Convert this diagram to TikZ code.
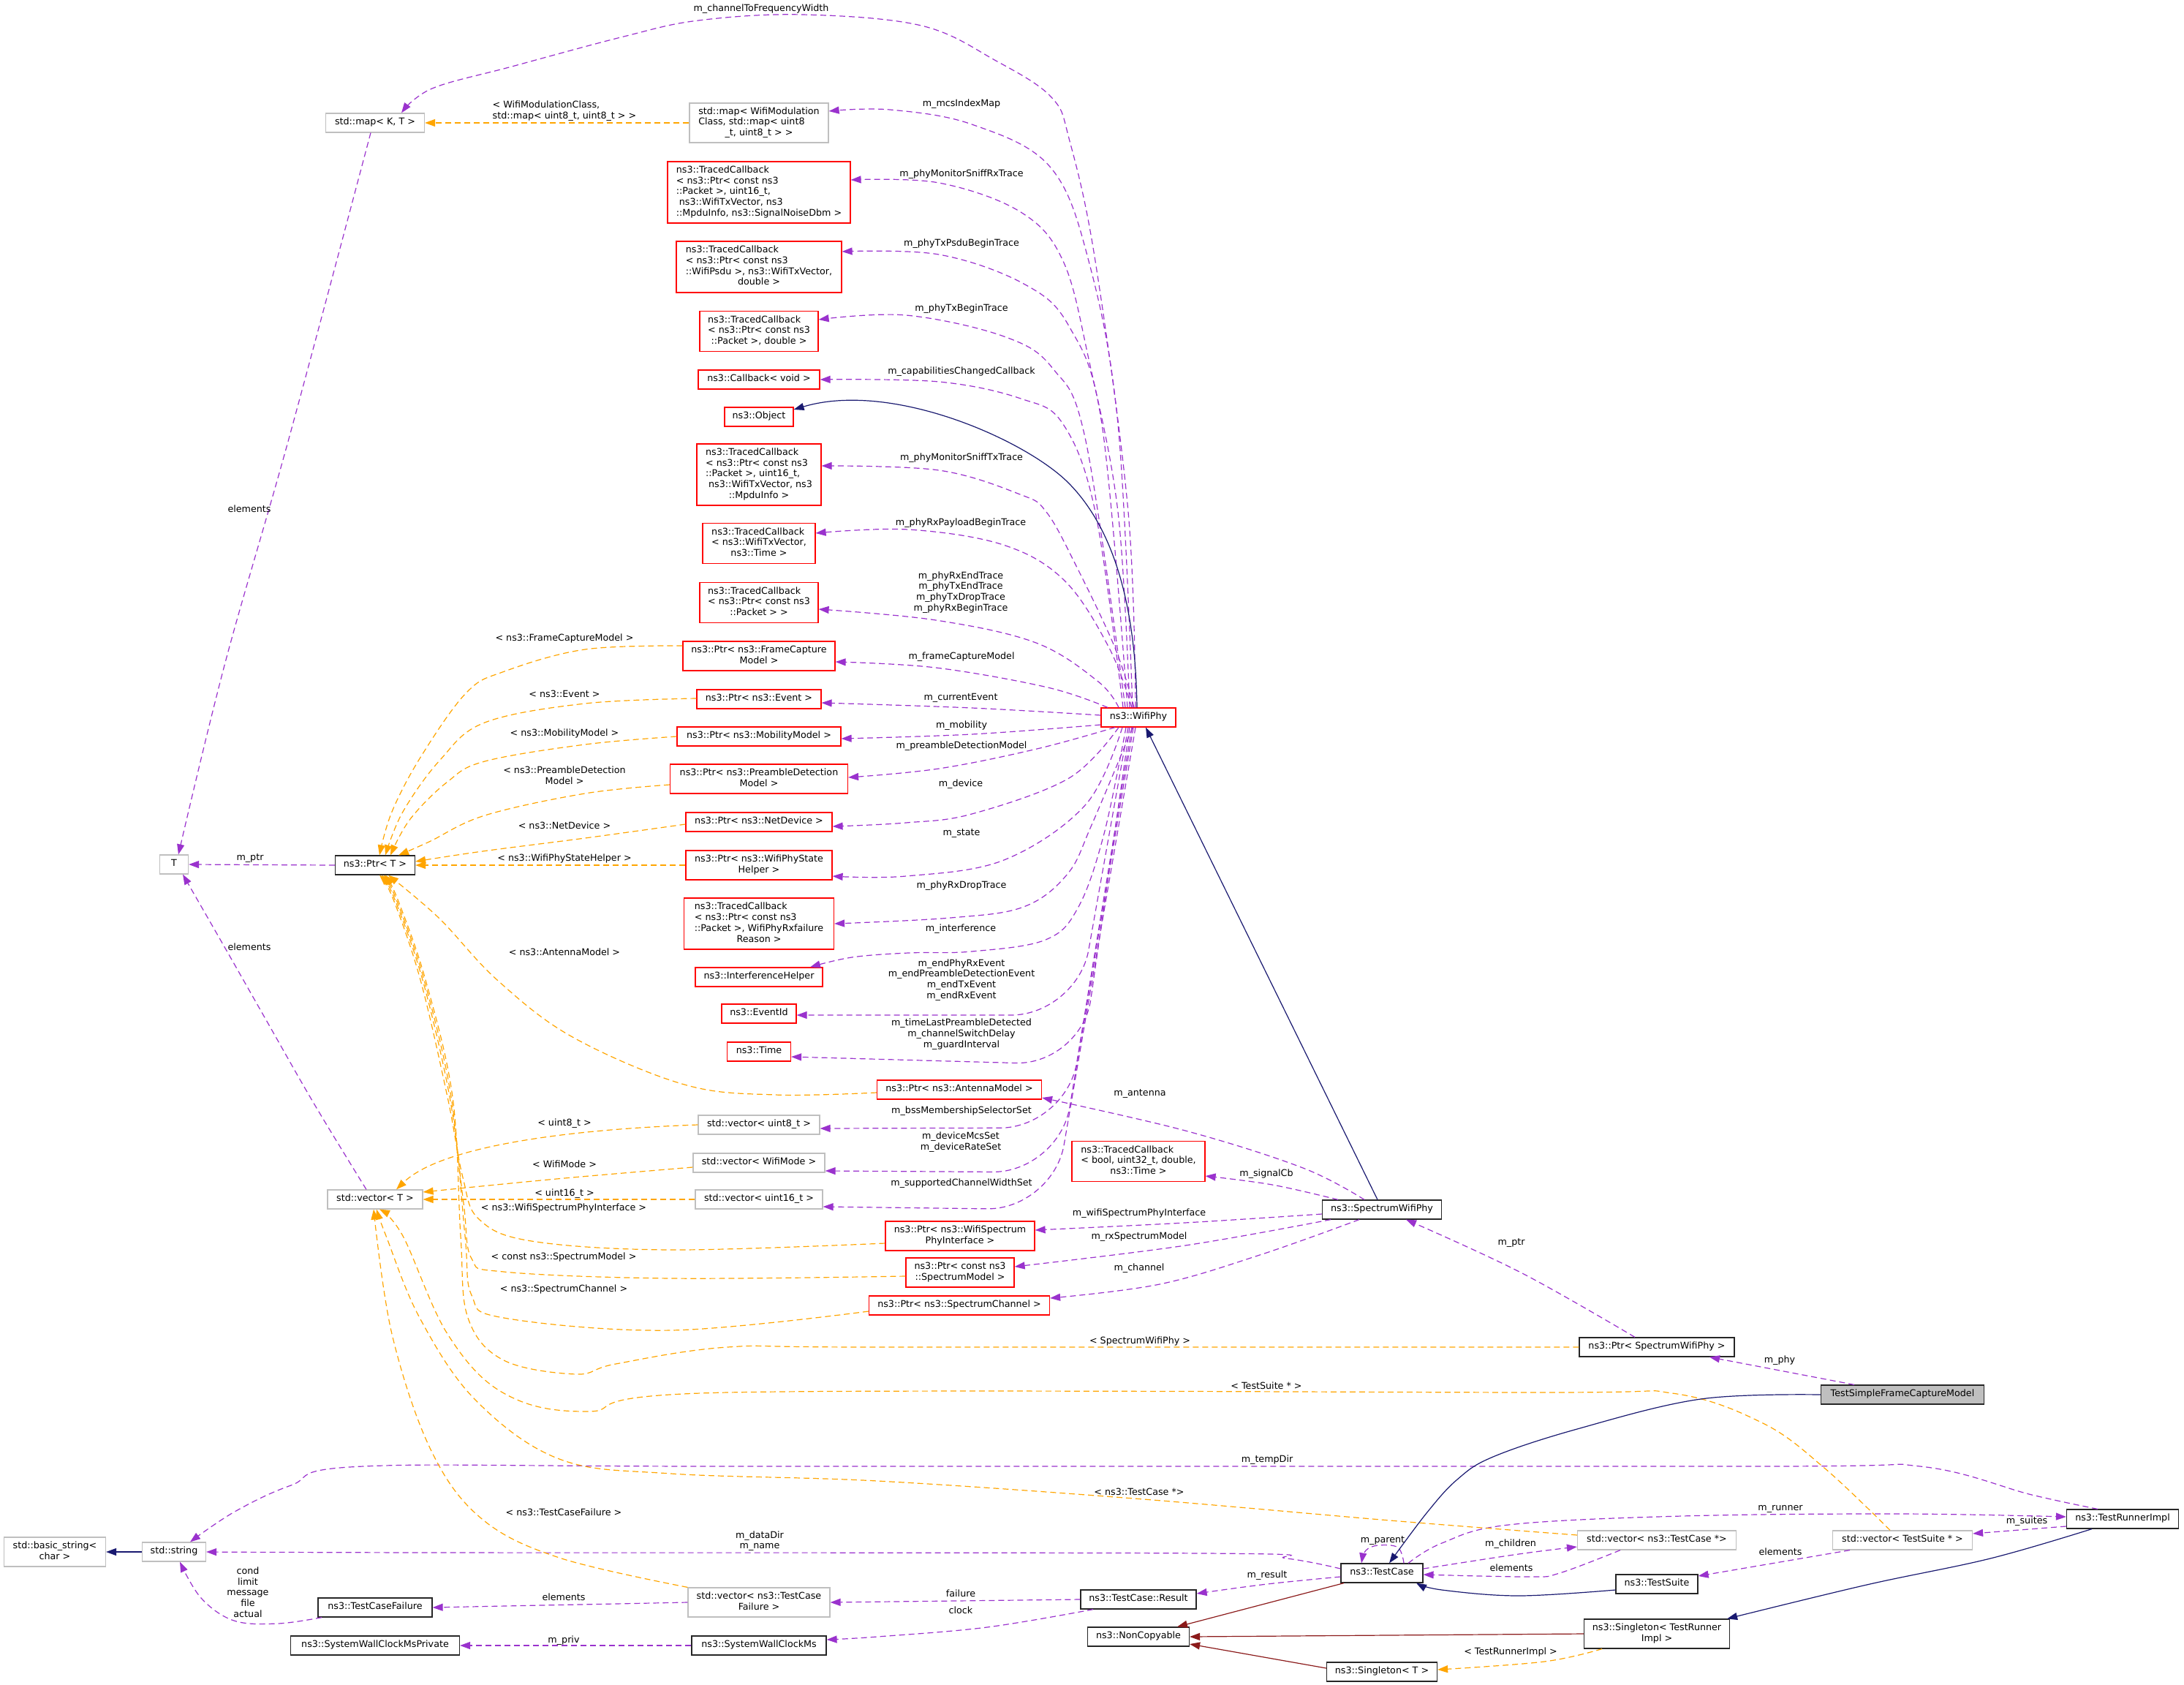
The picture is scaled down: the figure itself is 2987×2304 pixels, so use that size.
\documentclass[tikz,border=0pt]{standalone}
\usepackage{fontspec}
\setmainfont{DejaVu Sans}
\usetikzlibrary{arrows.meta}
\definecolor{purp}{HTML}{9A32CD}
\definecolor{orng}{HTML}{FFA500}
\definecolor{navyb}{HTML}{191970}
\definecolor{fireb}{HTML}{8B1A1A}
\definecolor{gbord}{HTML}{BFBFBF}
\definecolor{gfill}{HTML}{BFBFBF}
\newcommand\nf{\fontsize{12.7}{14.7}\selectfont}
\newcommand\mlb[2]{\begin{tabular}{@{}l@{}}#1\multicolumn{1}{@{}c@{}}{#2}\end{tabular}}
\begin{document}
\begin{tikzpicture}[x=1pt,y=-1pt,
 nb/.style={draw, fill=white, line width=1.2pt, inner xsep=2pt, inner ysep=1pt, font=\nf, rectangle},
 rb/.style={nb, draw=red},
 gb/.style={nb, draw=gbord},
 bb/.style={nb, draw=black!85},
 gf/.style={nb, draw=black!85, fill=gfill},
 sz/.style args={#1/#2}{minimum width=#1pt, minimum height=#2pt},
 ar/.style={-{Triangle[length=14pt,width=10pt]}, line width=1.2pt},
 use/.style={ar, draw=purp, dash pattern=on 8pt off 5pt},
 tmpl/.style={ar, draw=orng, dash pattern=on 8pt off 5pt},
 inh/.style={ar, draw=navyb},
 priv/.style={ar, draw=fireb},
 lbl/.style={font=\nf, inner sep=0pt}
]
\useasboundingbox (0,0) rectangle (2987,2304);

% ---------------- nodes ----------------
\node[gb, sz=135/26] (mapKT) at (513,168) {\mlb{}{std::map< K, T >}};
\node[gb, sz=190/54] (mapWMC) at (1038,168) {\mlb{std::map< WifiModulation\\Class, std::map< uint8\\}{\_t, uint8\_t > >}};
\node[rb, sz=250/84] (tcSniffRx) at (1038,263) {\mlb{ns3::TracedCallback\\< ns3::Ptr< const ns3\\::Packet >, uint16\_t,\\\ ns3::WifiTxVector, ns3\\}{::MpduInfo, ns3::SignalNoiseDbm >}};
\node[rb, sz=226/70] (tcPsdu) at (1038,365) {\mlb{ns3::TracedCallback\\< ns3::Ptr< const ns3\\::WifiPsdu >, ns3::WifiTxVector,\\}{double >}};
\node[rb, sz=162/55] (tcTxBegin) at (1038,453) {\mlb{ns3::TracedCallback\\< ns3::Ptr< const ns3\\}{::Packet >, double >}};
\node[rb, sz=166/26] (cbVoid) at (1038,519) {\mlb{}{ns3::Callback< void >}};
\node[rb, sz=94/26] (object) at (1038,570) {\mlb{}{ns3::Object}};
\node[rb, sz=170/84] (tcSniffTx) at (1038,649) {\mlb{ns3::TracedCallback\\< ns3::Ptr< const ns3\\::Packet >, uint16\_t,\\\ ns3::WifiTxVector, ns3\\}{::MpduInfo >}};
\node[rb, sz=154/55] (tcPayload) at (1038,743) {\mlb{ns3::TracedCallback\\< ns3::WifiTxVector,\\}{ns3::Time >}};
\node[rb, sz=162/55] (tcPacket) at (1038,824) {\mlb{ns3::TracedCallback\\< ns3::Ptr< const ns3\\}{::Packet > >}};
\node[rb, sz=208/40] (ptrFCM) at (1038,897) {\mlb{ns3::Ptr< ns3::FrameCapture\\}{Model >}};
\node[rb, sz=170/26] (ptrEvent) at (1038,956) {\mlb{}{ns3::Ptr< ns3::Event >}};
\node[rb, sz=224/26] (ptrMob) at (1038,1007) {\mlb{}{ns3::Ptr< ns3::MobilityModel >}};
\node[rb, sz=243/40] (ptrPDM) at (1038,1065) {\mlb{ns3::Ptr< ns3::PreambleDetection\\}{Model >}};
\node[rb, sz=200/26] (ptrND) at (1038,1124) {\mlb{}{ns3::Ptr< ns3::NetDevice >}};
\node[rb, sz=200/40] (ptrWPSH) at (1038,1183) {\mlb{ns3::Ptr< ns3::WifiPhyState\\}{Helper >}};
\node[rb, sz=205/70] (tcRxFail) at (1038,1263) {\mlb{ns3::TracedCallback\\< ns3::Ptr< const ns3\\::Packet >, WifiPhyRxfailure\\}{Reason >}};
\node[rb, sz=174/26] (interf) at (1038,1336) {\mlb{}{ns3::InterferenceHelper}};
\node[rb, sz=102/26] (eventId) at (1038,1386) {\mlb{}{ns3::EventId}};
\node[rb, sz=87/26] (time) at (1038,1438) {\mlb{}{ns3::Time}};
\node[gb, sz=166/26] (vecU8) at (1038,1538) {\mlb{}{std::vector< uint8\_t >}};
\node[gb, sz=180/26] (vecWM) at (1038,1590) {\mlb{}{std::vector< WifiMode >}};
\node[gb, sz=174/26] (vecU16) at (1038,1640) {\mlb{}{std::vector< uint16\_t >}};
\node[gb, sz=194/40] (vecTCF) at (1038,2191) {\mlb{std::vector< ns3::TestCase\\}{Failure >}};
\node[bb, sz=184/26] (swcm) at (1038,2250) {\mlb{}{ns3::SystemWallClockMs}};

\node[bb, sz=109/26] (ptrT) at (513,1183) {\mlb{}{ns3::Ptr< T >}};
\node[gb, sz=130/26] (vecT) at (513,1640) {\mlb{}{std::vector< T >}};
\node[bb, sz=156/26] (tcf) at (513,2198) {\mlb{}{ns3::TestCaseFailure}};
\node[bb, sz=231/26] (swcmp) at (513,2250) {\mlb{}{ns3::SystemWallClockMsPrivate}};
\node[gb, sz=39/26] (T) at (238,1182) {\mlb{}{T}};
\node[gb, sz=87/26] (str) at (238,2122) {\mlb{}{std::string}};
\node[gb, sz=139/40] (bstr) at (75,2122) {\mlb{std::basic\_string<\\}{char >}};

\node[rb, sz=225/26] (ptrAnt) at (1312,1490) {\mlb{}{ns3::Ptr< ns3::AntennaModel >}};
\node[rb, sz=204/40] (ptrWSPI) at (1313,1690) {\mlb{ns3::Ptr< ns3::WifiSpectrum\\}{PhyInterface >}};
\node[rb, sz=148/40] (ptrSM) at (1313,1740) {\mlb{ns3::Ptr< const ns3\\}{::SpectrumModel >}};
\node[rb, sz=247/26] (ptrSC) at (1312,1785) {\mlb{}{ns3::Ptr< ns3::SpectrumChannel >}};

\node[rb, sz=102/26] (wifiPhy) at (1557,981) {\mlb{}{ns3::WifiPhy}};
\node[rb, sz=182/55] (tcBool) at (1557,1588) {\mlb{ns3::TracedCallback\\< bool, uint32\_t, double,\\}{ns3::Time >}};
\node[bb, sz=158/26] (result) at (1557,2187) {\mlb{}{ns3::TestCase::Result}};
\node[bb, sz=139/26] (noncopy) at (1557,2238) {\mlb{}{ns3::NonCopyable}};
\node[bb, sz=163/26] (swp) at (1890,1654) {\mlb{}{ns3::SpectrumWifiPhy}};
\node[bb, sz=112/26] (testCase) at (1890,2151) {\mlb{}{ns3::TestCase}};
\node[bb, sz=151/26] (singT) at (1890,2286) {\mlb{}{ns3::Singleton< T >}};
\node[bb, sz=212/26] (ptrSWP) at (2266,1842) {\mlb{}{ns3::Ptr< SpectrumWifiPhy >}};
\node[gb, sz=217/26] (vecTC) at (2266,2106) {\mlb{}{std::vector< ns3::TestCase *>}};
\node[bb, sz=112/26] (testSuite) at (2266,2166) {\mlb{}{ns3::TestSuite}};
\node[bb, sz=199/40] (singTRI) at (2266,2234) {\mlb{ns3::Singleton< TestRunner\\}{Impl >}};
\node[gf, sz=223/26] (tsfcm) at (2602,1907) {\mlb{}{TestSimpleFrameCaptureModel}};
\node[gb, sz=191/26] (vecTS) at (2602,2106) {\mlb{}{std::vector< TestSuite * >}};
\node[bb, sz=153/26] (tri) at (2903,2077) {\mlb{}{ns3::TestRunnerImpl}};

% ---------------- WifiPhy usage edges (upper) ----------------
\draw[use] plot[smooth,tension=.6] coordinates {([xshift=-4pt]wifiPhy.north) (1543,700) (1498,357) (1463,193) (1438,133) (1362,83) (1260,35) (1097,20) (955,28) (853,50) (700,91) (591,121) ([xshift=36pt]mapKT.north)};
\draw[use] plot[smooth,tension=.6] coordinates {([xshift=-8pt]wifiPhy.north) (1529,580) (1489,357) (1436,228) (1329,170) (1217,150) ([yshift=16pt]mapWMC.east)};
\draw[use] plot[smooth,tension=.6] coordinates {([xshift=-12pt]wifiPhy.north) (1529,700) (1489,491) (1454,357) (1396,290) (1284,250) ([yshift=17pt]tcSniffRx.east)};
\draw[use] plot[smooth,tension=.6] coordinates {([xshift=-15pt]wifiPhy.north) (1507,580) (1462,446) (1400,388) (1284,348) ([yshift=21pt]tcPsdu.east)};
\draw[use] plot[smooth,tension=.6] coordinates {([xshift=-18pt]wifiPhy.north) (1485,603) (1440,504) (1373,460) (1239,431) ([yshift=16pt]tcTxBegin.east)};
\draw[use] plot[smooth,tension=.6] coordinates {([xshift=-21pt]wifiPhy.north) (1498,700) (1454,580) (1396,545) (1284,522) (cbVoid.east)};
\draw[inh] ([xshift=-2pt]wifiPhy.north) .. controls (1553,820) and (1520,720) .. (1462,661) .. controls (1404,602) and (1220,520) .. ([yshift=10pt]object.east);
\draw[use] plot[smooth,tension=.6] coordinates {([xshift=-6pt]wifiPhy.north) (1525,886) (1471,772) (1431,700) (1395,676) (1284,643) ([yshift=12pt]tcSniffTx.east)};
\draw[use] plot[smooth,tension=.6] coordinates {([xshift=-9pt]wifiPhy.north) (1517,886) (1456,794) (1372,745) (1242,724) ([yshift=14pt]tcPayload.east)};
\draw[use] plot[smooth,tension=.6] coordinates {([xshift=-27pt]wifiPhy.north) (1502,932) (1417,879) (1280,848) ([yshift=-9pt]tcPacket.east)};
\draw[use] plot[smooth,tension=.6] coordinates {([xshift=-42pt]wifiPhy.north) (1433,940) (1280,913) ([yshift=-8pt]ptrFCM.east)};
\draw[use] plot[smooth,tension=.6] coordinates {([yshift=3pt]wifiPhy.west) (1329,968) ([yshift=-5pt]ptrEvent.east)};
\draw[use] plot[smooth,tension=.6] coordinates {([yshift=-10pt]wifiPhy.west) (1329,1004) ([yshift=-3pt]ptrMob.east)};
% ---------------- WifiPhy usage edges (lower) ----------------
\draw[use] plot[smooth,tension=.6] coordinates {([xshift=-32pt]wifiPhy.south) (1418,1024) (1284,1051) ([yshift=2pt]ptrPDM.east)};
\draw[use] plot[smooth,tension=.6] coordinates {([xshift=-27pt]wifiPhy.south) (1462,1064) (1329,1113) (1239,1125) ([yshift=-6pt]ptrND.east)};
\draw[use] plot[smooth,tension=.6] coordinates {([xshift=-22pt]wifiPhy.south) (1485,1100) (1373,1176) (1239,1198) ([yshift=-15pt]ptrWPSH.east)};
\draw[use] plot[smooth,tension=.6] coordinates {([xshift=-8pt]wifiPhy.south) (1493,1128) (1460,1195) (1400,1240) (1300,1255) (tcRxFail.east)};
\draw[use] plot[smooth,tension=.6] coordinates {([xshift=-17pt]wifiPhy.south) (1510,1140) (1475,1240) (1430,1285) (1329,1301) (1242,1303) (1165,1309) ([xshift=70pt]interf.north)};
\draw[use, rounded corners=90pt] ([xshift=-14pt]wifiPhy.south) -- (1473,1388) -- ([yshift=-2pt]eventId.east);
\draw[use, rounded corners=90pt] ([xshift=-12pt]wifiPhy.south) -- (1479,1456) -- ([yshift=-7pt]time.east);
\draw[use, rounded corners=90pt] ([xshift=-9pt]wifiPhy.south) -- (1458,1542) -- ([yshift=-5pt]vecU8.east);
\draw[use, rounded corners=90pt] ([xshift=-7pt]wifiPhy.south) -- (1448,1603) -- ([yshift=-11pt]vecWM.east);
\draw[use, rounded corners=90pt] ([xshift=-4pt]wifiPhy.south) -- (1440,1654) -- ([yshift=-10pt]vecU16.east);

% ---------------- SpectrumWifiPhy ----------------
\draw[inh] ([xshift=-6pt]swp.north) -- ([xshift=10pt]wifiPhy.south);
\draw[use] plot[smooth,tension=.6] coordinates {([xshift=-24pt]swp.north) (1782,1597) (1621,1546) ([yshift=-11pt]ptrAnt.east)};
\draw[use] plot[smooth,tension=.6] coordinates {([xshift=-60pt]swp.north) (1740,1620) ([yshift=-20pt]tcBool.east)};
\draw[use] plot[smooth,tension=.6] coordinates {([yshift=-6pt]swp.west) (1620,1672) ([yshift=8pt]ptrWSPI.east)};
\draw[use] plot[smooth,tension=.6] coordinates {([xshift=-70pt]swp.south) (1621,1703) ([yshift=8pt]ptrSM.east)};
\draw[use] plot[smooth,tension=.6] coordinates {([xshift=-31pt]swp.south) (1726,1715) (1586,1756) ([yshift=10pt]ptrSC.east)};
\draw[use] plot[smooth,tension=.6] coordinates {([xshift=-30pt]ptrSWP.north) (2080,1740) ([xshift=33pt]swp.south)};
\draw[use] ([xshift=-66pt]tsfcm.north) -- ([xshift=72pt]ptrSWP.south);

% ---------------- test framework ----------------
\draw[use] plot[smooth,tension=.6] coordinates {([xshift=-34pt]tri.north) (2779,2044) (2626,2005) (2400,2005) (1000,2005) (497,2005) (398,2031) (321,2067) ([xshift=22pt]str.north)};
\draw[use] plot[smooth,tension=.6] coordinates {([yshift=6pt]testCase.west) (1760,2131) (1650,2124) (600,2123) (str.east)};
\draw[use] plot[smooth,tension=.6] coordinates {([yshift=-5pt]testCase.west) (1733,2166) ([yshift=8pt]result.east)};
\draw[use] (result.west) -- (vecTCF.east);
\draw[use] plot[smooth,tension=.6] coordinates {([xshift=-62pt]result.south) (1350,2225) (1200,2238) ([yshift=8pt]swcm.east)};
\draw[use] (vecTCF.west) -- (tcf.east);
\draw[use] (swcm.west) -- (swcmp.east);
\draw[use] plot[smooth,tension=.6] coordinates {([xshift=-73pt]tcf.south) (380,2220) (320,2216) (275,2185) ([xshift=8pt]str.south)};
\draw[use] plot[smooth,tension=.6] coordinates {([xshift=30pt]testCase.north) (1912,2116) (1885,2113) (1868,2120) ([xshift=-28pt]testCase.north)};
\draw[use] plot[smooth,tension=.6] coordinates {([yshift=6pt]testCase.east) (2077,2125) ([yshift=-9pt]vecTC.west)};
\draw[use] plot[smooth,tension=.6] coordinates {([xshift=-50pt]vecTC.south) (2133,2151) (2092,2156) ([yshift=-2pt]testCase.east)};
\draw[use] plot[smooth,tension=.6] coordinates {([xshift=36pt]testCase.north) (1972,2110) (2063,2085) (2300,2073) (2600,2070) ([yshift=3pt]tri.west)};
\draw[use] ([yshift=-10pt]tri.west) -- ([yshift=9pt]vecTS.east);
\draw[use] ([xshift=-72pt]vecTS.south) -- ([yshift=11pt]testSuite.east);

% ---------------- T ----------------
\draw[use] plot[smooth,tension=.6] coordinates {([xshift=-6pt]mapKT.south) (395,600) (308,906) ([xshift=6pt]T.north)};
\draw[use] plot[smooth,tension=.6] coordinates {([xshift=-12pt]vecT.north) (430,1510) (367,1400) (310,1300) ([xshift=12pt]T.south)};
\draw[use] (ptrT.west) -- (T.east);

% ---------------- template instances ----------------
\draw[tmpl] (mapWMC.west) -- (mapKT.east);
\draw[tmpl] plot[smooth,tension=.6] coordinates {([yshift=14pt]ptrFCM.west) (800,888) (690,918) (638,947) (576,1034) (536,1110) ([xshift=6pt]ptrT.north)};
\draw[tmpl] plot[smooth,tension=.6] coordinates {([yshift=1pt]ptrEvent.west) (800,962) (663,988) (602,1039) (551,1110) ([xshift=14pt]ptrT.north)};
\draw[tmpl] plot[smooth,tension=.6] coordinates {(ptrMob.west) (800,1018) (663,1041) (612,1069) (561,1120) ([xshift=21pt]ptrT.north)};
\draw[tmpl] plot[smooth,tension=.6] coordinates {([yshift=-8pt]ptrPDM.west) (800,1085) (663,1115) (587,1151) ([xshift=32pt]ptrT.north)};
\draw[tmpl] plot[smooth,tension=.6] coordinates {([yshift=-3pt]ptrND.west) (800,1146) (660,1164) ([yshift=5pt]ptrT.east)};
\draw[tmpl] (ptrWPSH.west) -- (ptrT.east);
\draw[tmpl] plot[smooth,tension=.6] coordinates {([yshift=-4pt]ptrAnt.west) (1060,1497) (936,1483) (783,1418) (680,1340) (600,1255) ([xshift=18pt]ptrT.south)};
\draw[tmpl] plot[smooth,tension=.6] coordinates {([yshift=-10pt]ptrWSPI.west) (918,1709) (727,1697) (655,1667) (633,1610) (612,1500) (575,1340) (538,1230) ([xshift=6pt]ptrT.south)};
\draw[tmpl] plot[smooth,tension=.6] coordinates {([yshift=-5pt]ptrSM.west) (918,1748) (689,1739) (645,1721) (634,1645) (615,1500) (578,1340) (540,1230) ([xshift=9pt]ptrT.south)};
\draw[tmpl] plot[smooth,tension=.6] coordinates {([yshift=-8pt]ptrSC.west) (918,1819) (689,1802) (645,1771) (636,1690) (617,1500) (580,1340) (542,1230) ([xshift=12pt]ptrT.south)};
\draw[tmpl] plot[smooth,tension=.6] coordinates {(ptrSWP.west) (1200,1842) (995,1842) (842,1865) (788,1879) (689,1860) (640,1802) (630,1690) (619,1500) (582,1340) (544,1230) ([xshift=14pt]ptrT.south)};
\draw[tmpl] (vecU8.west) .. controls (760,1545) and (600,1570) .. ([xshift=29pt]vecT.north);
\draw[tmpl] plot[smooth,tension=.6] coordinates {([yshift=-6pt]vecWM.west) (783,1610) (668,1621) ([yshift=10pt]vecT.east)};
\draw[tmpl] (vecU16.west) -- (vecT.east);
\draw[tmpl] plot[smooth,tension=.6] coordinates {([xshift=-17pt]vecTS.north) (2496,2008) (2411,1946) (2287,1905) (2100,1904) (995,1904) (803,1930) (689,1905) (612,1824) (551,1690) ([xshift=6pt]vecT.south)};
\draw[tmpl] plot[smooth,tension=.6] coordinates {([yshift=7pt]vecTC.west) (1901,2079) (1551,2049) (1200,2025) (918,2015) (765,1995) (650,1914) (574,1802) (528,1690) ([xshift=2pt]vecT.south)};
\draw[tmpl] plot[smooth,tension=.6] coordinates {(vecTCF.north west) (765,2130) (658,2076) (589,1982) (536,1824) ([xshift=-2pt]vecT.south)};
\draw[tmpl] plot[smooth,tension=.6] coordinates {([xshift=-75pt]singTRI.south) (2112,2272) ([yshift=3pt]singT.east)};

% ---------------- inheritance ----------------
\draw[inh] plot[smooth,tension=.6] coordinates {(tsfcm.west) (2326,1913) (2157,1954) (2042,1992) (1993,2023) (1951,2069) ([xshift=10pt]testCase.north)};
\draw[inh] plot[smooth,tension=.6] coordinates {([yshift=-8pt]testSuite.west) (2077,2182) (1972,2174) ([xshift=47pt]testCase.south)};
\draw[inh] plot[smooth,tension=.6] coordinates {([xshift=-42pt]tri.south) (2722,2131) (2553,2167) ([xshift=-4pt]singTRI.north east)};
\draw[inh] (str.west) -- (bstr.east);
\draw[priv] ([xshift=-52pt]testCase.south) -- ([xshift=53pt]noncopy.north);
\draw[priv] (singTRI.west) -- (noncopy.east);
\draw[priv] ([yshift=5pt]singT.west) -- ([yshift=-10pt]noncopy.east);

% ---------------- labels ----------------
\node[lbl] (l1) at (1041,12) {m\_channelToFrequencyWidth};
\node[lbl] (l2) at (1315,142) {m\_mcsIndexMap};
\node[lbl] (l3) at (1315,238) {m\_phyMonitorSniffRxTrace};
\node[lbl] (l4) at (1315,333) {m\_phyTxPsduBeginTrace};
\node[lbl] (l5) at (1315,422) {m\_phyTxBeginTrace};
\node[lbl] (l6) at (1315,508) {m\_capabilitiesChangedCallback};
\node[lbl] (l7) at (1315,626) {m\_phyMonitorSniffTxTrace};
\node[lbl] (l8) at (1314,715) {m\_phyRxPayloadBeginTrace};
\node[lbl, align=center] (l9) at (1314,810) {m\_phyRxEndTrace\\m\_phyTxEndTrace\\m\_phyTxDropTrace\\m\_phyRxBeginTrace};
\node[lbl] (l10) at (1315,898) {m\_frameCaptureModel};
\node[lbl] (l11) at (1314,954) {m\_currentEvent};
\node[lbl] (l12) at (1315,992) {m\_mobility};
\node[lbl] (l13) at (1315,1020) {m\_preambleDetectionModel};
\node[lbl] (l14) at (1314,1072) {m\_device};
\node[lbl] (l15) at (1315,1140) {m\_state};
\node[lbl] (l16) at (1315,1211) {m\_phyRxDropTrace};
\node[lbl] (l17) at (1314,1270) {m\_interference};
\node[lbl, align=center] (l18) at (1315,1340) {m\_endPhyRxEvent\\m\_endPreambleDetectionEvent\\m\_endTxEvent\\m\_endRxEvent};
\node[lbl, align=center] (l19) at (1315,1414) {m\_timeLastPreambleDetected\\m\_channelSwitchDelay\\m\_guardInterval};
\node[lbl] (l20) at (1559,1496) {m\_antenna};
\node[lbl] (l21) at (1315,1519) {m\_bssMembershipSelectorSet};
\node[lbl, align=center] (l22) at (1314,1562) {m\_deviceMcsSet\\m\_deviceRateSet};
\node[lbl] (l23) at (1315,1618) {m\_supportedChannelWidthSet};
\node[lbl] (l24) at (1732,1605) {m\_signalCb};
\node[lbl] (l25) at (1558,1659) {m\_wifiSpectrumPhyInterface};
\node[lbl] (l26) at (1558,1691) {m\_rxSpectrumModel};
\node[lbl] (l27) at (1558,1734) {m\_channel};
\node[lbl] (l28) at (2067,1700) {m\_ptr};
\node[lbl] (l29) at (2434,1860) {m\_phy};
\node[lbl] (l30) at (1559,1834) {< SpectrumWifiPhy >};
\node[lbl] (l31) at (1732,1895) {< TestSuite * >};
\node[lbl] (l32) at (1733,1996) {m\_tempDir};
\node[lbl] (l33) at (1558,2040) {< ns3::TestCase *>};
\node[lbl] (l34) at (2435,2063) {m\_runner};
\node[lbl] (l35) at (2772,2080) {m\_suites};
\node[lbl] (l36) at (1891,2107) {m\_parent};
\node[lbl] (l37) at (2066,2111) {m\_children};
\node[lbl] (l38) at (2067,2144) {elements};
\node[lbl] (l39) at (2435,2122) {elements};
\node[lbl] (l40) at (1733,2154) {m\_result};
\node[lbl] (l41) at (1314,2179) {failure};
\node[lbl] (l42) at (1314,2202) {clock};
\node[lbl] (l43) at (2066,2259) {< TestRunnerImpl >};
\node[lbl, align=center] (l44) at (1039,2107) {m\_dataDir\\m\_name};
\node[lbl] (l45) at (771,2068) {< ns3::TestCaseFailure >};
\node[lbl] (l46) at (771,2184) {elements};
\node[lbl] (l47) at (771,2243) {m\_priv};
\node[lbl, align=center] (l48) at (339,2177) {cond\\limit\\message\\file\\actual};
\node[lbl, align=left] (l49) at (772,152) {< WifiModulationClass,\\std::map< uint8\_t, uint8\_t > >};
\node[lbl] (l50) at (772,873) {< ns3::FrameCaptureModel >};
\node[lbl] (l51) at (772,949) {< ns3::Event >};
\node[lbl] (l52) at (772,1003) {< ns3::MobilityModel >};
\node[lbl, align=center] (l53) at (772,1060) {< ns3::PreambleDetection\\Model >};
\node[lbl] (l54) at (772,1129) {< ns3::NetDevice >};
\node[lbl] (l55) at (772,1174) {< ns3::WifiPhyStateHelper >};
\node[lbl] (l56) at (772,1302) {< ns3::AntennaModel >};
\node[lbl] (l57) at (772,1536) {< uint8\_t >};
\node[lbl] (l58) at (772,1592) {< WifiMode >};
\node[lbl] (l59) at (772,1632) {< uint16\_t >};
\node[lbl] (l60) at (771,1652) {< ns3::WifiSpectrumPhyInterface >};
\node[lbl] (l61) at (771,1719) {< const ns3::SpectrumModel >};
\node[lbl] (l62) at (771,1763) {< ns3::SpectrumChannel >};
\node[lbl] (l63) at (341,696) {elements};
\node[lbl] (l64) at (341,1295) {elements};
\node[lbl] (l65) at (342,1174) {m\_ptr};
\end{tikzpicture}
\end{document}
